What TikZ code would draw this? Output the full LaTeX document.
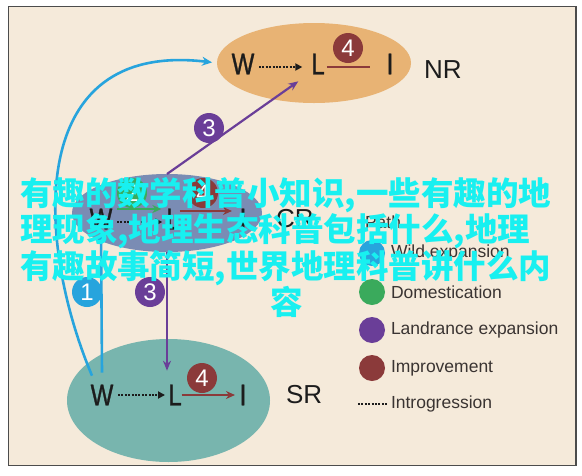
\documentclass[tikz,border=0pt]{standalone}
\usepackage{fontspec}
\setmainfont{Liberation Sans}
\newfontfamily\narrowsf[FakeStretch=0.8,FakeBold=1]{Liberation Sans}
\newfontfamily\cjkfont{Noto Sans CJK SC}
\usetikzlibrary{arrows.meta,shapes.geometric,calc}

\definecolor{paper}{RGB}{245,234,218}
\definecolor{nrfill}{RGB}{232,179,116}
\definecolor{crfill}{RGB}{122,140,180}
\definecolor{srfill}{RGB}{120,181,174}
\definecolor{wildblue}{RGB}{39,164,221}
\definecolor{domgreen}{RGB}{58,170,92}
\definecolor{landpurple}{RGB}{106,62,152}
\definecolor{imprred}{RGB}{139,58,58}
\definecolor{ink}{RGB}{28,28,28}
\definecolor{keyink}{RGB}{58,52,50}
\definecolor{markcyan}{RGB}{24,240,240}

\tikzset{
	every node/.style={
		inner sep=0pt,
		outer sep=0pt
	},
	region/.style={ellipse, draw=none},
	allele/.style={font=\narrowsf\fontsize{30}{30}\selectfont, text=ink},
	rname/.style={anchor=west, font=\fontsize{26}{26}\selectfont, text=ink},
	badge/.style={circle, minimum size=30pt, text=white, font=\fontsize{24}{24}\selectfont},
	keydot/.style={circle, minimum size=26pt},
	keytext/.style={anchor=west, font=\fontsize{17.5}{17.5}\selectfont, text=keyink},
	introline/.style={ink, line width=2.2pt, dash pattern=on 2pt off 1.4pt, -{Triangle[length=7pt,width=7pt]}},
	wildline/.style={wildblue, line width=2.6pt, -{Stealth[length=10pt,width=9pt]}},
	landline/.style={landpurple, line width=2.2pt, -{Stealth[length=10pt,width=8pt]}},
	imprline/.style={imprred, line width=2.6pt},
	domline/.style={domgreen, line width=2.6pt, -{Stealth[length=9pt,width=8pt]}}
}

\begin{document}
\begin{tikzpicture}[x=1pt, y=-1pt]
	\fill[white] (0,0) rectangle (582,475);
	\useasboundingbox (0,0) rectangle (582,475);
	\draw[black!70, line width=1.3pt, fill=paper] (8.5,6.5) rectangle (576,465.5);

	% the three regions
	\node[region, fill=nrfill, minimum width=194pt, minimum height=80pt] (nr) at (314,63) {};
	\node[region, fill=crfill, minimum width=190pt, minimum height=78pt] (cr) at (167,213) {};
	\node[region, fill=srfill, minimum width=203pt, minimum height=123pt] (sr) at (168.5,400.5) {};

	\node[rname] (nrlab) at (424,70) {NR};
	\node[rname] (crlab) at (276,219) {CR};
	\node[rname] (srlab) at (286,395) {SR};

	% NR
	\node[allele] (nrW) at (243,64) {W};
	\node[allele] (nrL) at (318,64) {L};
	\node[allele] (nrI) at (390,64) {I};
	\draw[introline, shorten <=4.7pt, shorten >=9pt] ([yshift=-3pt]nrW.east) to ([yshift=-3pt]nrL.west);
	\draw[imprline, shorten <=2.3pt, shorten >=16.7pt] ([yshift=-3pt]nrL.east) to ([yshift=-3pt]nrI.west);
	\node[badge, fill=imprred] (nr4) at (348,48) {4};

	% CR
	\node[allele] (crW) at (101,219) {W};
	\node[allele] (crL) at (173,219) {L};
	\node[allele] (crI) at (243,219) {I};
	\draw[introline, shorten <=4.7pt, shorten >=4pt] ([yshift=-3pt]crW.east) to ([yshift=-3pt]crL.west);
	\draw[domline, shorten <=4.7pt, shorten >=5pt] ([yshift=10pt]crW.east) to ([yshift=10pt]crL.west);
	\draw[imprline, -{Stealth[length=9pt,width=8pt]}, shorten >=7.7pt] ([yshift=8pt]crL.east) to ([yshift=8pt]crI.west);
	\node[badge, fill=domgreen] (cr2) at (132,193) {2};
	\node[badge, fill=imprred] (cr4) at (203,193) {4};

	% SR
	\node[allele] (srW) at (102,395) {W};
	\node[allele] (srL) at (175,395) {L};
	\node[allele] (srI) at (243,395) {I};
	\draw[introline, shorten <=4.7pt, shorten >=3.3pt] (srW.east) to (srL.west);
	\draw[imprline, -{Stealth[length=9pt,width=8pt]}, shorten >=4.7pt] (srL.east) to (srI.west);
	\node[badge, fill=imprred] (sr4) at (202,378) {4};

	% paths between regions
	\draw[wildline, shorten >=5pt] ($(srW.north)+(-10,-9)$) .. controls (35,240) and (25,40) .. (nr.west);
	\draw[wildline, shorten >=3pt] ($(srW.north)+(0,-12)$) to (crW.south);
	\node[badge, fill=wildblue] (wild1) at (87,292) {1};
	\draw[landline] (cr.north) to ($(nrL.south west)+(-13,7)$);
	\node[badge, fill=landpurple] (land3a) at (209,128) {3};
	\draw[landline] (cr.south) to ($(cr.south |- srL.north)+(0,-14)$);
	\node[badge, fill=landpurple] (land3b) at (150,292) {3};

	% key
	\node[keytext] (keyhead) at (365,222) {Path};
	\node[keydot, fill=wildblue] (kwild) at (372,253) {};
	\node[keytext] (twild) at (391,253) {Wild expansion};
	\node[keydot, fill=domgreen] (kdom) at (372,292) {};
	\node[keytext] (tdom) at (391,292) {Domestication};
	\node[keydot, fill=landpurple] (kland) at (372,330) {};
	\node[keytext] (tland) at (391,330) {Landrance expansion};
	\node[keydot, fill=imprred] (kimpr) at (372,368) {};
	\node[keytext] (timpr) at (391,368) {Improvement};
	\coordinate (kintro) at (358,404);
	\node[keytext] (tintro) at (391,404) {Introgression};
	\draw[ink, line width=2.2pt, dash pattern=on 2pt off 1.4pt, shorten >=3.5pt] (kintro) to (tintro.west);

	% overlay text
	\node[anchor=north west, align=left, text=markcyan, font=\cjkfont\bfseries\fontsize{32.5}{33}\selectfont] (mark) at (20,177)
		{有趣的数学科普小知识,一些有趣的地\\理现象,地理生态科普包括什么,地理\\有趣故事简短,世界地理科普讲什么内\\\makebox[533pt]{容}};
\end{tikzpicture}
\end{document}
